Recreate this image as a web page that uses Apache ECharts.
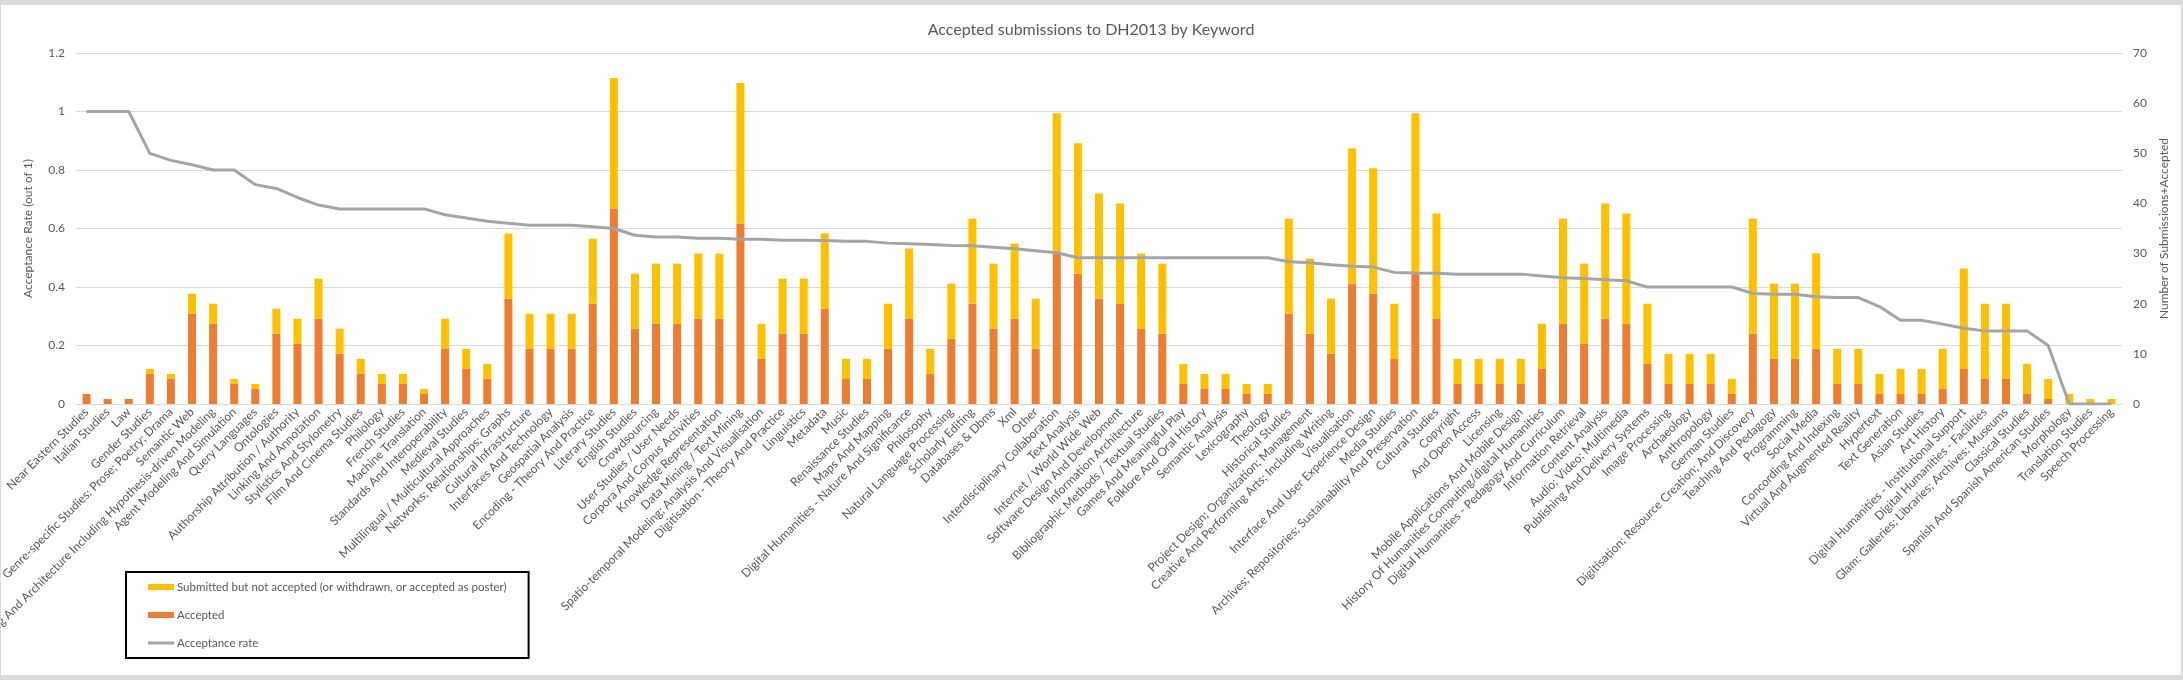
<!DOCTYPE html>
<html>
<head>
<meta charset="utf-8">
<title>Accepted submissions to DH2013 by Keyword</title>
<script src="https://cdn.jsdelivr.net/npm/echarts@6/dist/echarts.min.js"></script>
<style>
    html, body { margin: 0; padding: 0; background: #d9d9d9; }
    #keyword_chart { position: absolute; left: 1px; top: 5px; width: 2180px; height: 670px; background: #fff; }
</style>
</head>
<body>
<div id="keyword_chart"></div>
<script>
// Keywords, sorted by acceptance rate (as in the spreadsheet)
var keywords = [
    'Near Eastern Studies', 'Italian Studies', 'Law', 'Gender Studies',
    'Genre-specific Studies: Prose; Poetry; Drama', 'Semantic Web',
    'Data Modeling And Architecture Including Hypothesis-driven Modeling',
    'Agent Modeling And Simulation', 'Query Languages', 'Ontologies',
    'Authorship Attribution / Authority', 'Linking And Annotation', 'Stylistics And Stylometry',
    'Film And Cinema Studies', 'Philology', 'French Studies', 'Machine Translation',
    'Standards And Interoperability', 'Medieval Studies', 'Multilingual / Multicultural Approaches',
    'Networks; Relationships; Graphs', 'Cultural Infrastructure', 'Interfaces And Technology',
    'Geospatial Analysis', 'Encoding - Theory And Practice', 'Literary Studies', 'English Studies',
    'Crowdsourcing', 'User Studies / User Needs', 'Corpora And Corpus Activities',
    'Knowledge Representation', 'Data Mining / Text Mining',
    'Spatio-temporal Modeling; Analysis And Visualisation', 'Digitisation - Theory And Practice',
    'Linguistics', 'Metadata', 'Music', 'Renaissance Studies', 'Maps And Mapping',
    'Digital Humanities - Nature And Significance', 'Philosophy', 'Natural Language Processing',
    'Scholarly Editing', 'Databases & Dbms', 'Xml', 'Other', 'Interdisciplinary Collaboration',
    'Text Analysis', 'Internet / World Wide Web', 'Software Design And Development',
    'Information Architecture', 'Bibliographic Methods / Textual Studies', 'Games And Meaningful Play',
    'Folklore And Oral History', 'Semantic Analysis', 'Lexicography', 'Theology', 'Historical Studies',
    'Project Design; Organization; Management', 'Creative And Performing Arts; Including Writing',
    'Visualisation', 'Interface And User Experience Design', 'Media Studies',
    'Archives; Repositories; Sustainability And Preservation', 'Cultural Studies', 'Copyright',
    'And Open Access', 'Licensing', 'Mobile Applications And Mobile Design',
    'History Of Humanities Computing/digital Humanities', 'Digital Humanities - Pedagogy And Curriculum',
    'Information Retrieval', 'Content Analysis', 'Audio; Video; Multimedia',
    'Publishing And Delivery Systems', 'Image Processing', 'Archaeology', 'Anthropology',
    'German Studies', 'Digitisation; Resource Creation; And Discovery', 'Teaching And Pedagogy',
    'Programming', 'Social Media', 'Concording And Indexing', 'Virtual And Augmented Reality',
    'Hypertext', 'Text Generation', 'Asian Studies', 'Art History',
    'Digital Humanities - Institutional Support', 'Digital Humanities - Facilities',
    'Glam: Galleries; Libraries; Archives; Museums', 'Classical Studies',
    'Spanish And Spanish American Studies', 'Morphology', 'Translation Studies', 'Speech Processing'
];

// Accepted papers per keyword
var accepted = [
    2, 1, 1, 6, 5, 18, 16, 4, 3, 14,
    12, 17, 10, 6, 4, 4, 2, 11, 7, 5,
    21, 11, 11, 11, 20, 39, 15, 16, 16, 17,
    17, 36, 9, 14, 14, 19, 5, 5, 11, 17,
    6, 13, 20, 15, 17, 11, 30, 26, 21, 20,
    15, 14, 4, 3, 3, 2, 2, 18, 14, 10,
    24, 22, 9, 26, 17, 4, 4, 4, 4, 7,
    16, 12, 17, 16, 8, 4, 4, 4, 2, 14,
    9, 9, 11, 4, 4, 2, 2, 2, 3, 7,
    5, 5, 2, 1, 0, 0, 0
];

// Submitted but not accepted (or withdrawn, or accepted as poster)
var notAccepted = [
    0, 0, 0, 1, 1, 4, 4, 1, 1, 5,
    5, 8, 5, 3, 2, 2, 1, 6, 4, 3,
    13, 7, 7, 7, 13, 26, 11, 12, 12, 13,
    13, 28, 7, 11, 11, 15, 4, 4, 9, 14,
    5, 11, 17, 13, 15, 10, 28, 26, 21, 20,
    15, 14, 4, 3, 3, 2, 2, 19, 15, 11,
    27, 25, 11, 32, 21, 5, 5, 5, 5, 9,
    21, 16, 23, 22, 12, 6, 6, 6, 3, 23,
    15, 15, 19, 7, 7, 4, 5, 5, 8, 20,
    15, 15, 6, 4, 2, 1, 1
];

// Acceptance rate (out of 1)
var acceptanceRate = [
    1, 1, 1, 0.857, 0.833, 0.818, 0.8, 0.8, 0.75, 0.737,
    0.706, 0.68, 0.667, 0.667, 0.667, 0.667, 0.667, 0.647, 0.636, 0.625,
    0.618, 0.611, 0.611, 0.611, 0.606, 0.6, 0.577, 0.571, 0.571, 0.567,
    0.567, 0.563, 0.563, 0.56, 0.56, 0.559, 0.556, 0.556, 0.55, 0.548,
    0.545, 0.542, 0.541, 0.536, 0.531, 0.524, 0.517, 0.5, 0.5, 0.5,
    0.5, 0.5, 0.5, 0.5, 0.5, 0.5, 0.5, 0.486, 0.483, 0.476,
    0.471, 0.468, 0.45, 0.448, 0.447, 0.444, 0.444, 0.444, 0.444, 0.438,
    0.432, 0.429, 0.425, 0.421, 0.4, 0.4, 0.4, 0.4, 0.4, 0.378,
    0.375, 0.375, 0.367, 0.364, 0.364, 0.333, 0.286, 0.286, 0.273, 0.259,
    0.25, 0.25, 0.25, 0.2, 0, 0, 0
];

var rateTicks = { min: 0, max: 1.2, interval: 0.2 };
var countTicks = { min: 0, max: 70, interval: 10 };

// Initialize chart
// ------------------------------

var keyword_chart = echarts.init(document.getElementById('keyword_chart'));

var textColor = '#595959';
var fontName = 'Lato';

var keyword_options = {
    animation: false,
    textStyle: { fontFamily: fontName },

    title: {
        text: 'Accepted submissions to DH2013 by Keyword',
        left: 'center',
        top: 12,
        textStyle: { color: textColor, fontSize: 16, fontWeight: 'normal', fontFamily: fontName }
    },

    tooltip: { trigger: 'axis' },

    legend: {
        orient: 'vertical',
        left: 125,
        top: 567,
        width: 398,
        padding: [9, 22, 9, 22],
        borderColor: '#000',
        borderWidth: 2,
        itemWidth: 26,
        itemHeight: 6,
        itemGap: 16,
        textStyle: { color: textColor, fontSize: 11.5, fontFamily: fontName, padding: [0, 0, 0, -2] },
        data: [
            { name: 'Submitted but not accepted (or withdrawn, or accepted as poster)', icon: 'rect' },
            { name: 'Accepted', icon: 'rect' },
            // thin bar so the line entry reads as a plain stroke
            { name: 'Acceptance rate', icon: 'path://M0,0L26,0L26,3L0,3Z' }
        ]
    },

    // keep the plot fixed; long labels may run off the left edge like the original
    grid: { left: 75, right: 59, top: 48, bottom: 271, outerBoundsMode: 'none' },

    xAxis: {
        type: 'category',
        data: keywords,
        axisLine: { lineStyle: { color: '#d9d9d9', width: 1 } },
        axisTick: { show: false },
        axisLabel: {
            interval: 0,
            rotate: 45,
            margin: 6,
            color: textColor,
            fontSize: 12,
            fontFamily: fontName
        }
    },

    yAxis: [
        {
            type: 'value',
            name: 'Acceptance Rate (out of 1)',
            nameLocation: 'middle',
            nameRotate: 90,
            nameGap: 42,
            nameTextStyle: { color: textColor, fontSize: 12, fontFamily: fontName },
            min: rateTicks.min,
            max: rateTicks.max,
            interval: rateTicks.interval,
            axisLine: { show: false },
            axisTick: { show: false },
            axisLabel: { color: textColor, fontSize: 12, margin: 11, fontFamily: fontName },
            splitLine: { lineStyle: { color: '#d9d9d9', width: 1 } }
        },
        {
            type: 'value',
            name: 'Number of Submissions+Accepted',
            nameLocation: 'middle',
            nameRotate: 90,
            nameGap: 32,
            nameTextStyle: { color: textColor, fontSize: 12, fontFamily: fontName },
            min: countTicks.min,
            max: countTicks.max,
            interval: countTicks.interval,
            axisLine: { show: false },
            axisTick: { show: false },
            axisLabel: { color: textColor, fontSize: 12, margin: 11, fontFamily: fontName },
            splitLine: { show: false }
        }
    ],

    series: [
        {
            name: 'Accepted',
            type: 'bar',
            stack: 'total',
            yAxisIndex: 1,
            barWidth: 8,
            itemStyle: { color: '#ED7D31' },
            data: accepted
        },
        {
            name: 'Submitted but not accepted (or withdrawn, or accepted as poster)',
            type: 'bar',
            stack: 'total',
            yAxisIndex: 1,
            barWidth: 8,
            itemStyle: { color: '#FFC000' },
            data: notAccepted
        },
        {
            name: 'Acceptance rate',
            type: 'line',
            yAxisIndex: 0,
            symbol: 'none',
            lineStyle: { color: '#A5A5A5', width: 3 },
            itemStyle: { color: '#A5A5A5' },
            data: acceptanceRate
        }
    ]
};

keyword_chart.setOption(keyword_options);

window.onresize = function () {
    setTimeout(function () {
        keyword_chart.resize();
    }, 200);
};
</script>
</body>
</html>
